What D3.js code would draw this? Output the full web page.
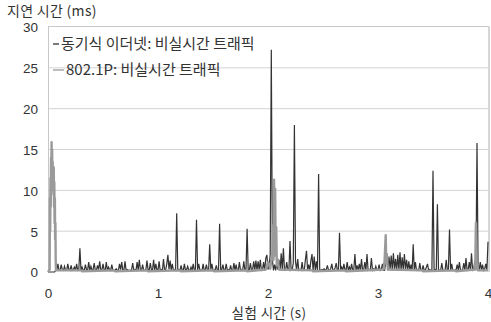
<!DOCTYPE html>
<html>
<head>
<meta charset="utf-8">
<script src="https://cdn.jsdelivr.net/npm/d3@7"></script>
<style>
  html, body { margin: 0; padding: 0; background: #fff; }
  svg { display: block; }
  text { font-family: "Noto Sans CJK KR", "Noto Sans", sans-serif; fill: #333; }
  .num text { font-family: "Liberation Sans", Arial, sans-serif; }
</style>
</head>
<body>
<svg id="chart" width="491" height="322"></svg>
<script>
// Sampling interval of the synchronous-Ethernet trace (s)
const sampleStep = 0.01;

// 동기식 이더넷: 비실시간 트래픽 — delay (ms), one value per 10 ms from 0 s to 4 s
const syncDelay = [
  0,0,0,0,0,0,0,0.2,0.2,1.0,
  0.2,0.2,0.9,0.3,0.2,0.7,0.2,0.2,1.0,0.3,
  0.2,0.8,0.2,0.3,0.6,0.2,1.0,0.2,0.3,2.9,
  0.2,0.6,0.2,0.2,0.9,0.3,0.2,1.2,0.2,0.7,
  0.2,0.3,1.1,0.2,0.2,0.8,0.3,1.3,0.2,0.2,
  1.0,0.3,0.2,1.2,0.2,0.6,0.3,0.2,0.9,0.2,
  0.2,0.2,0.4,0.2,0.2,1.0,0.3,1.2,0.2,0.2,
  1.3,0.2,0.3,0.2,0.2,0.2,0.3,1.1,0.2,0.3,
  0.2,1.2,0.2,1.5,0.3,0.2,0.9,0.2,0.2,0.3,
  1.4,0.2,0.2,1.1,0.3,0.2,1.5,0.2,1.0,0.3,
  0.2,1.3,0.2,0.3,0.2,1.6,0.2,0.3,1.0,2.1,
  0.3,1.4,0.2,1.0,0.2,0.3,0.2,7.2,0.2,0.3,
  0.2,0.8,0.2,0.2,1.0,0.2,0.3,0.7,0.2,0.2,
  0.6,0.2,1.0,0.2,0.3,6.4,0.2,1.0,0.3,0.2,
  0.2,1.0,0.2,0.3,0.9,0.2,0.2,3.4,0.3,1.0,
  0.2,0.2,0.3,0.8,0.2,0.2,5.9,0.2,0.3,0.9,
  0.2,0.2,1.0,0.2,0.3,0.2,0.8,0.2,0.2,1.1,
  0.2,0.9,0.2,0.2,1.2,0.2,0.3,0.2,1.3,0.2,
  0.3,5.3,0.2,0.2,1.1,0.2,0.3,1.3,0.2,1.4,
  0.2,1.3,0.2,1.5,0.2,0.3,1.2,0.2,1.7,2.1,
  0.3,0.8,2.1,27.2,1.5,0.2,0.9,0.2,1.2,0.3,
  1.5,0.2,2.3,0.2,2.9,0.2,0.2,1.2,0.3,0.2,
  3.8,0.2,0.3,1.1,18.0,1.3,0.2,1.6,0.2,0.3,
  0.2,1.2,0.2,0.3,1.5,2.6,0.2,0.9,0.2,1.4,
  2.2,0.2,1.9,0.2,1.3,0.2,12.0,0.3,0.2,0.3,
  0.2,0.4,0.2,0.3,0.8,0.2,0.2,0.4,1.0,0.2,
  0.2,0.5,1.1,0.2,0.2,4.8,0.2,0.6,0.2,1.0,
  0.2,0.3,1.2,0.2,0.6,0.2,1.0,0.2,0.3,2.2,
  0.2,0.8,0.2,1.0,0.2,1.6,0.2,0.3,1.2,0.2,
  2.2,0.2,0.3,0.2,1.7,0.2,0.4,0.2,0.7,0.2,
  0.2,0.9,0.2,0.3,1.0,0.2,0.2,1.2,1.8,0.2,
  1.9,0.3,2.0,0.2,2.3,0.3,1.6,0.2,2.1,0.2,
  2.4,0.2,1.8,0.2,2.2,0.3,1.5,0.2,1.3,0.2,
  0.9,0.2,3.4,0.2,1.2,0.2,0.3,0.2,1.1,0.2,
  0.2,0.8,0.2,0.2,0.6,1.0,0.2,0.3,0.2,0.2,
  12.4,0.2,0.3,0.2,8.3,0.3,0.2,0.2,1.1,0.2,
  0.2,0.2,1.5,0.2,0.3,5.2,0.2,1.0,0.2,0.2,
  0.2,0.3,0.9,0.2,1.2,0.2,0.2,0.3,1.1,0.2,
  1.7,0.2,0.3,1.2,0.2,2.3,0.2,0.3,1.4,0.2,
  15.8,0.2,0.3,1.2,0.2,0.9,0.2,0.4,1.0,0.2,
  3.7
];

// 802.1P: 비실시간 트래픽 — time (s) and delay (ms)
const prioTime = [
  0.000,0.0150,0.0175,0.0200,0.0225,0.0250,0.0275,0.0300,0.0325,0.0350,0.0375,0.0400,0.0425,
  0.0450,0.0475,0.0500,0.0525,0.0550,0.0575,0.0600,0.0625,0.0650,0.0675,0.0700,0.0725,
  0.30,0.31,0.60,0.61,0.90,0.91,1.20,1.21,1.50,1.51,1.80,1.81,
  1.98,2.00,2.02,2.040,2.045,2.050,2.055,2.060,2.065,2.070,2.075,2.080,2.090,2.100,
  2.40,2.41,2.70,2.71,
  3.05,3.06,3.070,3.075,3.080,3.090,
  3.40,3.41,3.70,3.71,
  3.880,3.885,3.890,3.895,3.905,3.910,
  4.00
];
const prioDelay = [
  0,0.3,9.0,5.0,11.5,8.0,14.0,10.0,15.9,12.0,15.0,11.0,13.5,
  10.5,12.9,9.5,12.8,8.0,11.0,6.0,9.0,4.0,6.0,1.5,0.2,
  0.2,0.1,0.2,0.1,0.2,0.1,0.2,0.1,0.2,0.1,0.2,0.1,
  0.3,1.2,0.4,2.5,5.7,1.5,11.3,3.0,10.2,2.0,5.5,0.8,1.5,0.3,
  0.2,0.1,0.2,0.1,
  0.3,1.4,4.5,1.0,2.2,0.3,
  0.2,0.1,0.2,0.1,
  0.3,1.2,6.0,1.0,0.8,0.2,
  0.2
];

const yTicks = [0, 5, 10, 15, 20, 25, 30];
const xTicks = [0, 1, 2, 3, 4];
const seriesNames = ["동기식 이더넷: 비실시간 트래픽", "802.1P: 비실시간 트래픽"];
const seriesColors = ["#333333", "#9a9a9a"];
const yTitle = "지연 시간 (ms)";
const xTitle = "실험 시간 (s)";

const svg = d3.select("#chart");
const margin = { left: 48, right: 3, top: 27, bottom: 50 };
const W = 491, H = 322;

const x = d3.scaleLinear().domain([0, 4]).range([margin.left, W - margin.right]);
const y = d3.scaleLinear().domain([0, 30]).range([H - margin.bottom, margin.top]);

// Horizontal gridlines
svg.append("g")
  .selectAll("line")
  .data(yTicks.filter(d => d > 0 && d < 30))
  .join("line")
  .attr("x1", x(0)).attr("x2", x(4))
  .attr("y1", d => y(d)).attr("y2", d => y(d))
  .attr("stroke", "#d3d3d3").attr("stroke-width", 1);

// Plot frame: top edge, right edge, left axis
svg.append("line").attr("x1", x(0)).attr("x2", x(4) + 1).attr("y1", y(30) - 0.5).attr("y2", y(30) - 0.5)
  .attr("stroke", "#c8c8c8");
svg.append("line").attr("x1", x(4) + 1).attr("x2", x(4) + 1).attr("y1", y(30) - 0.5).attr("y2", y(0))
  .attr("stroke", "#d6d6d6").attr("stroke-width", 2);
svg.append("line").attr("x1", x(0) + 0.5).attr("x2", x(0) + 0.5).attr("y1", y(30)).attr("y2", y(0))
  .attr("stroke", "#c8c8c8");

// Y axis labels
const yAxis = d3.axisLeft(y).tickValues(yTicks).tickSize(0).tickPadding(10).tickFormat(d3.format("d"));
const gy = svg.append("g").attr("class", "num").attr("transform", `translate(${x(0)},0)`).call(yAxis);
gy.select(".domain").remove();
gy.selectAll("text").style("font-size", "13.5px").attr("fill", "#333").attr("dy", "0.36em");

// X axis labels
const xAxis = d3.axisBottom(x).tickValues(xTicks).tickSize(0).tickPadding(16.5).tickFormat(d3.format("d"));
const gx = svg.append("g").attr("class", "num").attr("transform", `translate(0,${y(0)})`).call(xAxis);
gx.select(".domain").remove();
gx.selectAll("text").style("font-size", "13.5px").attr("fill", "#333");

// Series lines
const syncPts = syncDelay.map((v, i) => [i * sampleStep, v]);
const prioPts = prioTime.map((t, i) => [t, prioDelay[i]]);
const line = d3.line().x(d => x(d[0])).y(d => y(d[1]));

svg.append("path").datum(syncPts).attr("d", line)
  .attr("fill", "none").attr("stroke", seriesColors[0]).attr("stroke-width", 1.2)
  .attr("stroke-linejoin", "miter");
svg.append("path").datum(prioPts).attr("d", line)
  .attr("fill", "none").attr("stroke", seriesColors[1]).attr("stroke-width", 2.4)
  .attr("stroke-linejoin", "round");

// Titles
svg.append("text").attr("x", 7).attr("y", 15.5).style("font-size", "14px")
  .style("letter-spacing", "0.3px").text(yTitle);
svg.append("text").attr("x", (x(0) + x(4)) / 2 + 1).attr("y", 317.5).attr("text-anchor", "middle")
  .style("font-size", "13.5px").style("letter-spacing", "0.4px").text(xTitle);

// Legend
const legend = svg.append("g");
const legendRows = [
  { y: 44, x1: 53, x2: 59, tx: 61 },
  { y: 70, x1: 53, x2: 64, tx: 66 }
];
legendRows.forEach((r, i) => {
  legend.append("line").attr("x1", r.x1).attr("x2", r.x2).attr("y1", r.y).attr("y2", r.y)
    .attr("stroke", seriesColors[i]).attr("stroke-width", 1.3);
  legend.append("text").attr("x", r.tx).attr("y", r.y).attr("dy", "0.35em")
    .style("font-size", "15px").text(seriesNames[i]);
});
</script>
</body>
</html>
